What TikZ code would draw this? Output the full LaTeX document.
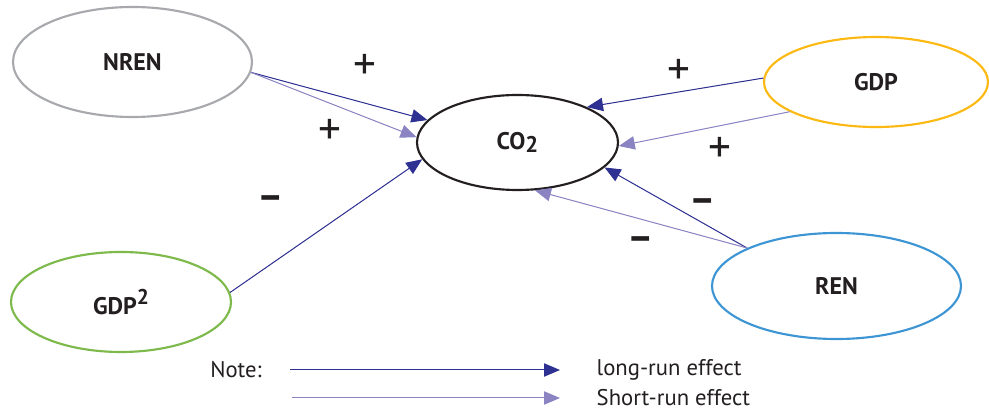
\documentclass[tikz,border=0pt]{standalone}
\usepackage{fontspec}
\setmainfont{PT Sans}
\usetikzlibrary{shapes.geometric,arrows.meta}

\definecolor{lrblue}{RGB}{46,49,146}
\definecolor{srblue}{RGB}{138,132,195}
\definecolor{nrengray}{RGB}{167,169,172}
\definecolor{gdpyellow}{RGB}{253,185,19}
\definecolor{sqgreen}{RGB}{125,185,75}
\definecolor{renblue}{RGB}{61,149,212}
\definecolor{inkblack}{RGB}{35,31,32}

\begin{document}
\begin{tikzpicture}[x=0.75pt,y=0.75pt,
    var/.style={ellipse, draw, line width=1.6pt, inner sep=0pt, text=inkblack,
        font=\fontsize{18}{18}\selectfont\bfseries},
    longrun/.style={draw=lrblue, line width=0.75pt,
        -{Triangle[length=12pt,width=10pt]}, fill=lrblue},
    shortrun/.style={draw=srblue, line width=0.75pt,
        -{Triangle[length=12pt,width=10pt]}, fill=srblue},
    sign/.style={text=inkblack, font=\fontsize{34}{34}\selectfont},
    neg/.style={text=inkblack, font=\fontsize{30}{30}\selectfont\bfseries},
    legend/.style={text=inkblack, font=\fontsize{17}{17}\selectfont}]

    % Picture frame
    \def\px{0.75pt}
    \useasboundingbox (0,0) rectangle (989,414);

    % Variables
    \node[var, draw=nrengray, minimum width=239*\px, minimum height=110*\px] (nren) at (132.5,352) {NREN};
    \node[var, draw=inkblack, minimum width=201*\px, minimum height=95*\px] (co2) at (517.5,271.5)
        {CO\raisebox{-0.15em}{\fontsize{17}{17}\selectfont 2}};
    \node[var, draw=gdpyellow, minimum width=224*\px, minimum height=90*\px] (gdp) at (876,332) {GDP};
    \node[var, draw=sqgreen, minimum width=220*\px, minimum height=100*\px] (gdpsq) at (121,112)
        {GDP\raisebox{0.45em}{\fontsize{16}{16}\selectfont 2}};
    \node[var, draw=renblue, minimum width=249*\px, minimum height=106*\px] (ren) at (836.5,128) {REN};

    % Long-run and short-run effects on CO2
    \draw[longrun] (nren.-5.5) -- (co2.166.6);
    \draw[shortrun] (nren.-5.5) -- (co2.177.4);
    \draw[longrun] (gdpsq.5.8) -- (co2.190.4);
    \draw[longrun] (gdp.178.5) -- (co2.27.4);
    \draw[shortrun] (gdp.199) -- (co2.-2);
    \draw[longrun] (ren.157.4) -- (co2.-16.2);
    \draw[shortrun] (ren.157.4) -- (co2.-70.5);

    % Signs of the effects
    \node[sign] (s1) at (365,347) {+};
    \node[sign] (s2) at (330,282) {+};
    \node[neg]  (s3) at (271,211) {–};
    \node[sign] (s4) at (679,342) {+};
    \node[sign] (s5) at (720,264) {+};
    \node[neg]  (s6) at (703,208) {–};
    \node[neg]  (s7) at (641,170) {–};

    % Legend
    \node[legend] (note) at (236,44) {Note:};
    \coordinate (lr0) at (290,44);
    \coordinate (lr1) at (560,44);
    \coordinate (sr0) at (292,16);
    \coordinate (sr1) at (560,16);
    \draw[longrun] (lr0) -- (lr1);
    \draw[shortrun] (sr0) -- (sr1);
    \node[legend, anchor=west] (lrtext) at (592,44) {long-run effect};
    \node[legend, anchor=west] (srtext) at (592,16) {Short-run effect};
\end{tikzpicture}
\end{document}
